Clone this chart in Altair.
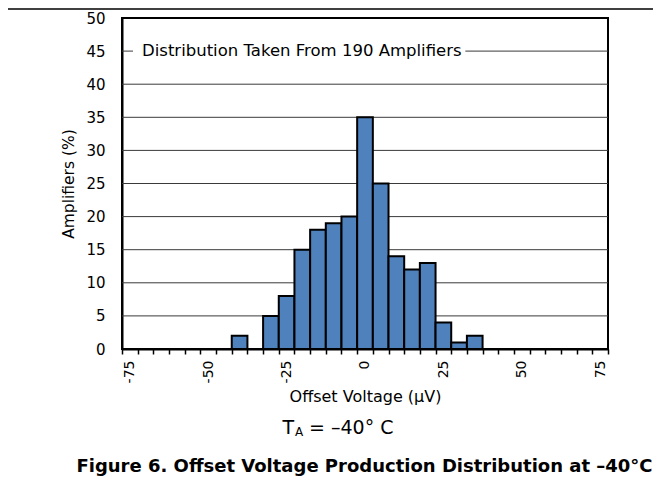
import altair as alt
import pandas as pd

# ---- data ----
bin_centers = [-40, -35, -30, -25, -20, -15, -10, -5, 0, 5, 10, 15, 20, 25, 30, 35]
percent = [2, 0, 5, 8, 15, 18, 19, 20, 35, 25, 14, 12, 13, 4, 1, 2]
bin_width = 5
x_domain = [-77.5, 77.5]
tick_bounds = [-77.5 + 5 * i for i in range(32)]
y_ticks = list(range(0, 55, 5))
grid_full = [5, 10, 15, 20, 25, 30, 35, 40]
grid_split_y = 45
grid_split_segments = [(-77.5, -74.0), (32.0, 77.5)]
note_text = "Distribution Taken From 190 Amplifiers"
x_title = "Offset Voltage (µV)"
y_title = "Amplifiers (%)"
ta_main = "T"
ta_sub = "A"
ta_rest = "= –40° C"
caption = "Figure 6. Offset Voltage Production Distribution at –40°C"

FONT = "DejaVu Sans"
W, H = 486, 331
BAR_BLUE = "#4F81BD"

df = pd.DataFrame({"center": bin_centers, "pct": percent})
df = df[df["pct"] > 0].copy()
df["lo"] = df["center"] - bin_width / 2
df["hi"] = df["center"] + bin_width / 2

xscale = alt.Scale(domain=x_domain, nice=False, zero=False)
yscale = alt.Scale(domain=[0, 50], nice=False, zero=True)

x_axis = alt.Axis(
    values=tick_bounds,
    title=x_title,
    labelExpr="((datum.value + 2.5) % 25 == 0) ? ('' + (datum.value + 2.5)) : ''",
    labelAngle=270,
    labelOffset=7.8,
    labelFlush=False,
    labelOverlap=False,
    labelFontSize=14,
    labelPadding=6,
    tickSize=5,
    tickWidth=1.5,
    tickColor="black",
    domainColor="black",
    domainWidth=2,
    grid=False,
    titleFontSize=16,
    titlePadding=6,
)
y_axis = alt.Axis(
    values=y_ticks,
    title=y_title,
    ticks=False,
    grid=False,
    labelOverlap=False,
    labelFlush=False,
    labelFontSize=15,
    labelPadding=17,
    domainColor="black",
    domainWidth=2,
    titleFontSize=15.5,
    titlePadding=9,
)

grid = alt.Chart(pd.DataFrame({"g": grid_full})).mark_rule(
    color="#3a3a3a", strokeWidth=1
).encode(y=alt.Y("g:Q", scale=yscale, axis=y_axis))

seg_df = pd.DataFrame({
    "a": [s[0] for s in grid_split_segments],
    "b": [s[1] for s in grid_split_segments],
    "g": [grid_split_y] * len(grid_split_segments),
})
grid_split = alt.Chart(seg_df).mark_rule(color="#3a3a3a", strokeWidth=1).encode(
    x=alt.X("a:Q", scale=xscale, axis=x_axis), x2="b:Q",
    y=alt.Y("g:Q", scale=yscale, axis=y_axis)
)

bars = alt.Chart(df).mark_rect(fill=BAR_BLUE, stroke="black", strokeWidth=2).encode(
    x=alt.X("lo:Q", scale=xscale, axis=x_axis),
    x2="hi:Q",
    y=alt.Y("pct:Q", scale=yscale, axis=y_axis),
    y2=alt.datum(0),
)

note = alt.Chart(pd.DataFrame({"t": [note_text]})).mark_text(
    font=FONT, fontSize=16.5, align="left", baseline="middle", color="black"
).encode(text="t:N", x=alt.value(20),
         y=alt.Y(datum=grid_split_y, scale=yscale, axis=y_axis))

ta1 = alt.Chart(pd.DataFrame({"t": [ta_main]})).mark_text(
    font=FONT, fontSize=19, align="left", baseline="alphabetic", color="black"
).encode(text="t:N", x=alt.value(160.5), y=alt.value(415.5))
ta2 = alt.Chart(pd.DataFrame({"t": [ta_sub]})).mark_text(
    font=FONT, fontSize=12, align="left", baseline="alphabetic", color="black"
).encode(text="t:N", x=alt.value(173), y=alt.value(417.5))
ta3 = alt.Chart(pd.DataFrame({"t": [ta_rest]})).mark_text(
    font=FONT, fontSize=19, align="left", baseline="alphabetic", color="black"
).encode(text="t:N", x=alt.value(187), y=alt.value(415.5))

cap = alt.Chart(pd.DataFrame({"t": [caption]})).mark_text(
    font=FONT, fontSize=18, fontWeight="bold", align="center", baseline="alphabetic", color="black"
).encode(text="t:N", x=alt.value(242.5), y=alt.value(454))

top_line = alt.Chart(pd.DataFrame({"a": [0]})).mark_rule(color="black", strokeWidth=1.5).encode(
    x=alt.value(-114), x2=alt.value(531), y=alt.value(-9)
)

chart = alt.layer(grid, grid_split, bars, note, ta1, ta2, ta3, cap, top_line).properties(
    width=W,
    height=H,
    padding={"left": 114, "top": 10, "right": 53, "bottom": 128},
    autosize=alt.AutoSizeParams(type="none"),
).configure_view(stroke="black", strokeWidth=2).configure_axis(
    labelFont=FONT, titleFont=FONT, labelColor="black", titleColor="black", titleFontWeight="normal"
)

chart.save("out.html", embed_options={"renderer": "svg", "actions": False})
